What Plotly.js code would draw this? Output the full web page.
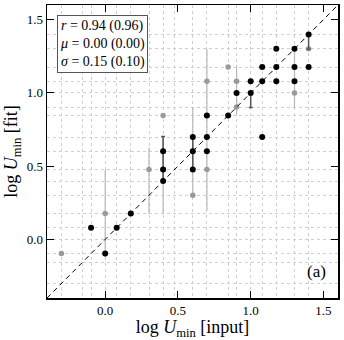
<!DOCTYPE html>
<html>
<head>
<meta charset="utf-8">
<script src="https://cdn.plot.ly/plotly-3.0.1.min.js"></script>
<style>
  html, body { margin: 0; padding: 0; background: #fff; }
  #plot { width: 344px; height: 340px; }
</style>
</head>
<body>
<div id="plot"></div>
<script>
// log Umin values (input vs fit)
var blackX = [-0.097, 0.000, 0.079, 0.176, 0.398, 0.398, 0.398, 0.602, 0.602, 0.602,
              0.699, 0.699, 0.699, 0.845, 0.903, 1.000, 1.000, 1.079, 1.079, 1.079,
              1.176, 1.176, 1.176, 1.301, 1.301, 1.301, 1.398, 1.398];
var blackY = [0.079, -0.097, 0.079, 0.176, 0.398, 0.477, 0.602, 0.477, 0.602, 0.699,
              0.602, 0.699, 0.845, 0.845, 1.000, 1.000, 1.079, 0.699, 1.079, 1.176,
              1.079, 1.176, 1.301, 1.079, 1.176, 1.301, 1.176, 1.398];
var blackErrUp = [0, 0, 0, 0, 0, 0, 0.10, 0, 0.10, 0,
                  0, 0, 0, 0, 0, 0, 0, 0, 0, 0,
                  0, 0, 0, 0, 0, 0, 0, 0];
var blackErrDown = [0, 0, 0, 0, 0, 0, 0.20, 0, 0.12, 0,
                    0, 0, 0, 0, 0, 0.10, 0, 0, 0, 0,
                    0, 0, 0, 0, 0, 0, 0, 0.10];

var grayX = [-0.301, 0.000, 0.301, 0.398, 0.398, 0.602, 0.602, 0.699, 0.699, 0.845,
             0.903, 0.903, 1.301, 1.398];
var grayY = [-0.097, 0.176, 0.477, 0.845, 0.477, 0.301, 0.602, 0.477, 1.079, 1.176,
             1.079, 0.903, 1.000, 1.301];
var grayErrUp = [0, 0.30, 0.15, 0, 0.22, 0, 0.30, 0.22, 0.22, 0,
                 0.10, 0.05, 0.30, 0];
var grayErrDown = [0, 0.30, 0.30, 0, 0.30, 0, 0.32, 0.28, 0.38, 0,
                   0.18, 0.05, 0.10, 0];

// Umin grid of the models, used for the dotted grid lines
var uGrid = [0.4, 0.5, 0.7, 0.8, 1.0, 1.2, 1.5, 2.0, 2.5, 3.0, 4.0, 5.0, 7.0, 8.0,
             10, 12, 15, 20, 25];
var gridVals = uGrid.map(function (u) { return Math.log10(u); });

var axisRange = [-0.4, 1.6];
var tickVals = [0.0, 0.5, 1.0, 1.5];
var statsText = ['<i>r</i> = 0.94 (0.96)', '<i>μ</i> = 0.00 (0.00)', '<i>σ</i> = 0.15 (0.10)'];

var serif = 'Liberation Serif, Times New Roman, serif';

var data = [
    {
        x: grayX, y: grayY, type: 'scatter', mode: 'markers',
        marker: { color: '#9a9a9a', size: 5.5 },
        error_y: { type: 'data', symmetric: false, array: grayErrUp, arrayminus: grayErrDown,
                   color: '#b8b8b8', thickness: 1.2, width: 0 },
        hoverinfo: 'skip'
    },
    {
        x: axisRange, y: axisRange, type: 'scatter', mode: 'lines',
        line: { color: '#000', width: 1, dash: '5px,4px' },
        hoverinfo: 'skip'
    },
    {
        x: blackX, y: blackY, type: 'scatter', mode: 'markers',
        marker: { color: '#000', size: 6 },
        error_y: { type: 'data', symmetric: false, array: blackErrUp, arrayminus: blackErrDown,
                   color: '#555', thickness: 1.5, width: 2 },
        hoverinfo: 'skip'
    }
];

function makeAxis(titleText) {
    return {
        range: axisRange,
        tickmode: 'array',
        tickvals: tickVals,
        tickformat: '.1f',
        ticks: 'inside',
        ticklen: 7,
        tickwidth: 1,
        tickcolor: '#000',
        showline: true,
        linecolor: '#000',
        linewidth: 1.5,
        mirror: 'ticks',
        showgrid: false,
        zeroline: false,
        tickfont: { family: serif, size: 13, color: '#000' },
        minor: {
            tickmode: 'array',
            tickvals: gridVals,
            showgrid: true,
            gridcolor: '#cfcfcf',
            gridwidth: 1,
            griddash: 'dot',
            ticks: ''
        },
        title: { text: titleText, font: { family: serif, size: 18, color: '#000' }, standoff: 4 }
    };
}

var layout = {
    width: 344,
    height: 340,
    margin: { l: 47, r: 6, t: 5, b: 42 },
    paper_bgcolor: '#fff',
    plot_bgcolor: '#fff',
    showlegend: false,
    xaxis: makeAxis('log <i>U</i><sub>min</sub> [input]'),
    yaxis: makeAxis('log <i>U</i><sub>min</sub> [fit]'),
    annotations: [
        {
            xref: 'paper', yref: 'paper', x: 0.035, y: 0.965,
            xanchor: 'left', yanchor: 'top', align: 'left',
            text: statsText.join('<br>'),
            showarrow: false,
            font: { family: serif, size: 14, color: '#000' },
            bgcolor: '#fff', bordercolor: '#555', borderwidth: 1, borderpad: 2
        },
        {
            xref: 'paper', yref: 'paper', x: 0.965, y: 0.05,
            xanchor: 'right', yanchor: 'bottom',
            text: '(a)', showarrow: false,
            font: { family: serif, size: 17, color: '#000' }
        }
    ]
};

Plotly.newPlot('plot', data, layout, { staticPlot: true, displayModeBar: false });
</script>
</body>
</html>
